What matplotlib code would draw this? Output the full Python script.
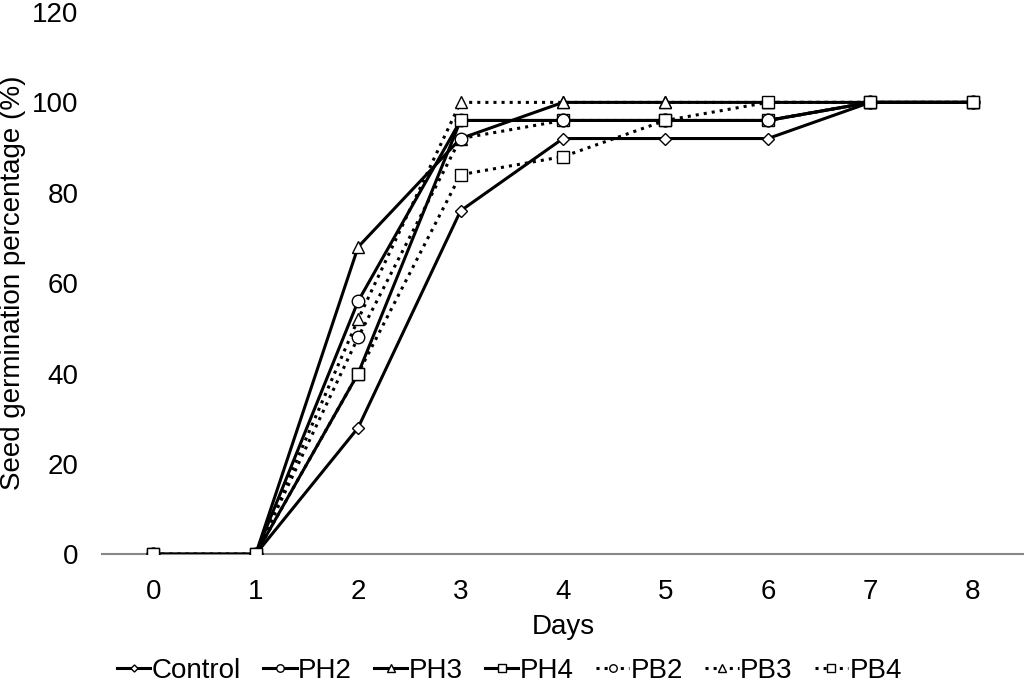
import matplotlib.pyplot as plt

plt.rcParams['font.family'] = ['Liberation Sans', 'DejaVu Sans']

# data
days = [0, 1, 2, 3, 4, 5, 6, 7, 8]
control = [0, 0, 28, 76, 92, 92, 92, 100, 100]
ph2 = [0, 0, 56, 96, 96, 96, 96, 100, 100]
ph3 = [0, 0, 68, 92, 100, 100, 100, 100, 100]
ph4 = [0, 0, 40, 96, 96, 96, 96, 100, 100]
pb2 = [0, 0, 48, 92, 96, 96, 96, 100, 100]
pb3 = [0, 0, 52, 100, 100, 100, 100, 100, 100]
pb4 = [0, 0, 40, 84, 88, 96, 100, 100, 100]

series = [
    ('Control', control, 'D', '-', 6),
    ('PH2', ph2, 'o', '-', 9),
    ('PH3', ph3, '^', '-', 9),
    ('PH4', ph4, 's', '-', 8.5),
    ('PB2', pb2, 'o', ':', 9),
    ('PB3', pb3, '^', ':', 9),
    ('PB4', pb4, 's', ':', 8.5),
]

fig = plt.figure(figsize=(10.24, 6.86), dpi=100)
ax = fig.add_axes([0.0996, 0.192, 0.9004, 0.7905])

for name, vals, mk, ls, ms in series:
    ax.plot(days, vals, color='black', linestyle=ls, linewidth=2.2,
            marker=mk, markersize=ms, markerfacecolor='white',
            markeredgecolor='black', markeredgewidth=1, label=name)

ax.set_xlim(-0.5, 8.5)
ax.set_ylim(0, 120)
ax.set_xticks(days)
ax.set_yticks(range(0, 121, 20))
ax.tick_params(axis='both', length=0, labelsize=20)
ax.tick_params(axis='x', pad=18)
ax.tick_params(axis='y', pad=17)

for s in ['top', 'right', 'left']:
    ax.spines[s].set_visible(False)
ax.spines['bottom'].set_color('#888888')
ax.spines['bottom'].set_linewidth(1.5)
ax.spines['bottom'].set_zorder(0)

ax.set_xlabel('Days', fontsize=20, labelpad=6)
ax.set_ylabel('Seed germination percentage (%)', fontsize=20, labelpad=4)

ax.legend(loc='center', bbox_to_anchor=(0.442, -0.215), ncol=7,
          frameon=False, fontsize=20, handlelength=1.2, handletextpad=0.05,
          columnspacing=0.8, markerscale=0.6, borderpad=0.2)

fig.savefig('out.png', dpi=100)
